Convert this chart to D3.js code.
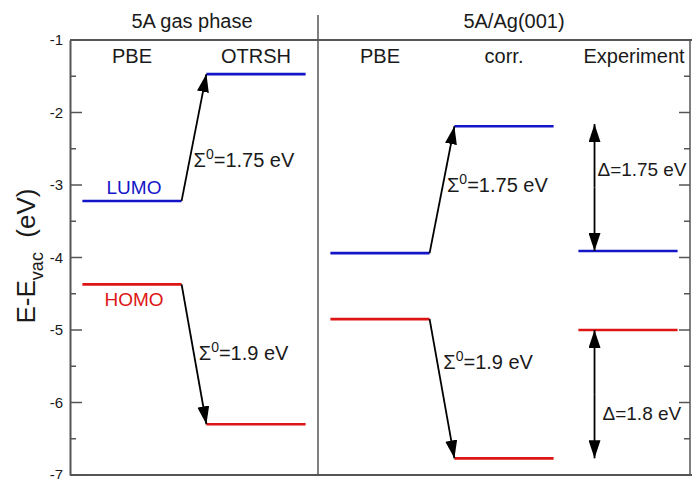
<!DOCTYPE html>
<html><head><meta charset="utf-8">
<script src="https://cdn.jsdelivr.net/npm/d3@7"></script>
<style>body{margin:0;background:#fff}svg{display:block;font-family:"Liberation Sans",Arial,sans-serif}</style>
</head><body><svg id="c" width="692" height="479"></svg>
<script>
const panels = ["5A gas phase", "5A/Ag(001)"];
const columns = ["PBE", "OTRSH", "PBE", "corr.", "Experiment"];
const lumo = [-3.22, -1.47, -3.94, -2.19, -3.91];
const homo = [-4.37, -6.30, -4.85, -6.77, -5.00];
const yTicks = [-1, -2, -3, -4, -5, -6, -7];
// arrows: [from column, to column, from value, to value, label]
const shiftArrows = [
  [0, 1, -3.22, -1.47, "1.75 eV"],
  [0, 1, -4.37, -6.30, "1.9 eV"],
  [2, 3, -3.94, -2.19, "1.75 eV"],
  [2, 3, -4.85, -6.77, "1.9 eV"]
];
const expArrows = [
  [-3.91, -2.16, "Δ=1.75 eV"],
  [-5.00, -6.77, "Δ=1.8 eV"]
];

const svg = d3.select("#c");
const L = 70, R = 690, T = 40, B = 475;
const x = d3.scaleLinear().domain([-0.1, 4.9]).range([L, R]);
const y = d3.scaleLinear().domain([-7, -1]).range([B, T]);
const axisColor = "#555";
const txt = "#1a1a1a";

svg.append("defs").append("marker").attr("id","ah2").attr("viewBox","0 0 18 12")
  .attr("refX",18).attr("refY",6).attr("markerWidth",18).attr("markerHeight",12)
  .attr("markerUnits","userSpaceOnUse").attr("orient","auto")
  .append("path").attr("d","M0,0 L18,6 L0,12 z").attr("fill","#000");

// frame
svg.append("line").attr("x1",L).attr("x2",692).attr("y1",T).attr("y2",T).attr("stroke",axisColor).attr("stroke-width",2);
svg.append("line").attr("x1",L).attr("x2",692).attr("y1",B).attr("y2",B).attr("stroke",axisColor).attr("stroke-width",2);
svg.append("line").attr("x1",R).attr("x2",R).attr("y1",T).attr("y2",B).attr("stroke",axisColor).attr("stroke-width",1.5);
// divider
svg.append("line").attr("x1",x(1.9)).attr("x2",x(1.9)).attr("y1",15).attr("y2",B).attr("stroke",axisColor).attr("stroke-width",1.5);

// left axis
const minor = d3.range(-6.5, -1, 1);
const yAxis = d3.axisLeft(y).tickValues(yTicks).tickFormat(d => String(d)).tickSize(0).tickPadding(7);
const ga = svg.append("g").attr("transform",`translate(${L},0)`).call(yAxis);
ga.select(".domain").attr("stroke",axisColor).attr("stroke-width",2);
ga.selectAll("text").attr("font-size",15).attr("fill",txt).attr("font-family","Liberation Sans, Arial, sans-serif");
svg.append("g").selectAll("line").data(yTicks).join("line")
  .attr("x1",L).attr("x2",L+12).attr("y1",d=>y(d)).attr("y2",d=>y(d)).attr("stroke",axisColor).attr("stroke-width",1.5);
svg.append("g").selectAll("line").data(minor).join("line")
  .attr("x1",L).attr("x2",L+6).attr("y1",d=>y(d)).attr("y2",d=>y(d)).attr("stroke",axisColor).attr("stroke-width",1.5);
svg.append("g").selectAll("line").data(yTicks).join("line")
  .attr("x1",R).attr("x2",R-11).attr("y1",d=>y(d)).attr("y2",d=>y(d)).attr("stroke",axisColor).attr("stroke-width",1.5);
svg.append("g").selectAll("line").data(minor).join("line")
  .attr("x1",R).attr("x2",R-6).attr("y1",d=>y(d)).attr("y2",d=>y(d)).attr("stroke",axisColor).attr("stroke-width",1.5);

// y label
const yl = svg.append("text").attr("transform",`translate(35,256) rotate(-90)`).attr("text-anchor","middle")
  .attr("font-size",26).attr("fill",txt);
yl.append("tspan").text("E-E");
yl.append("tspan").attr("font-size",18).attr("dy",8).text("vac");
yl.append("tspan").attr("dy",-8).text("\u00a0\u00a0(eV)");

// panel titles
svg.append("text").attr("x",192).attr("y",28).attr("text-anchor","middle").attr("font-size",20).attr("fill",txt).text(panels[0]);
svg.append("text").attr("x",514).attr("y",28).attr("text-anchor","middle").attr("font-size",20).attr("fill",txt).text(panels[1]);

// column labels
svg.append("g").selectAll("text").data(columns).join("text")
  .attr("x",(d,i)=>x(i+0.4)+(i===4?6:0)).attr("y",63).attr("text-anchor","middle")
  .attr("font-size",20).attr("fill",txt).text(d=>d);

// levels
svg.append("g").selectAll("line").data(lumo).join("line")
  .attr("x1",(d,i)=>x(i)).attr("x2",(d,i)=>x(i+0.8)).attr("y1",d=>y(d)).attr("y2",d=>y(d))
  .attr("stroke","#1515c8").attr("stroke-width",2.6);
svg.append("g").selectAll("line").data(homo).join("line")
  .attr("x1",(d,i)=>x(i)).attr("x2",(d,i)=>x(i+0.8)).attr("y1",d=>y(d)).attr("y2",d=>y(d))
  .attr("stroke","#dd1515").attr("stroke-width",2.6);

svg.append("text").attr("x",x(0.4)+2).attr("y",y(lumo[0])-7).attr("text-anchor","middle").attr("font-size",19).attr("fill","#1515c8").text("LUMO");
svg.append("text").attr("x",x(0.4)+2).attr("y",y(homo[0])+22).attr("text-anchor","middle").attr("font-size",19).attr("fill","#dd1515").text("HOMO");

// shift arrows (label placement: fraction along arrow, x offset)
const labelPos = [[0.32, 4], [0.49, 5], [0.54, 4], [0.31, 6]];
shiftArrows.forEach((a, k)=>{
  const x1 = x(a[0]+0.8), x2 = x(a[1]), y1 = y(a[2]), y2 = y(a[3]);
  svg.append("line").attr("x1",x1).attr("y1",y1).attr("x2",x2).attr("y2",y2)
    .attr("stroke","#000").attr("stroke-width",1.8).attr("marker-end","url(#ah2)");
  const f = labelPos[k][0];
  const ly = y1 + (y2 - y1) * f;
  const t = svg.append("text").attr("x",x1 + (x2 - x1) * f + labelPos[k][1]).attr("y",ly + 7)
    .attr("font-size",20).attr("fill",txt);
  t.append("tspan").text("Σ");
  t.append("tspan").attr("font-size",14).attr("dy",-8).text("0");
  t.append("tspan").attr("dy",8).text("=" + a[4]);
});

// experiment arrows
const expLabelDx = [3, 8];
const expLabelFrac = [0.35, 0.35];
expArrows.forEach((a, k)=>{
  const xa = x(4.13);
  const mid = (y(a[0])+y(a[1]))/2;
  svg.append("line").attr("x1",xa).attr("x2",xa).attr("y1",mid).attr("y2",y(a[0]))
    .attr("stroke","#000").attr("stroke-width",1.8).attr("marker-end","url(#ah2)");
  svg.append("line").attr("x1",xa).attr("x2",xa).attr("y1",mid).attr("y2",y(a[1]))
    .attr("stroke","#000").attr("stroke-width",1.8).attr("marker-end","url(#ah2)");
  const ly = y(a[1]) + (y(a[0]) - y(a[1])) * expLabelFrac[k];
  svg.append("text").attr("x",xa+expLabelDx[k]).attr("y",ly + 7).attr("font-size",19)
    .attr("textLength", k === 0 ? 89 : null).attr("fill",txt).text(a[2]);
});
</script></body></html>
